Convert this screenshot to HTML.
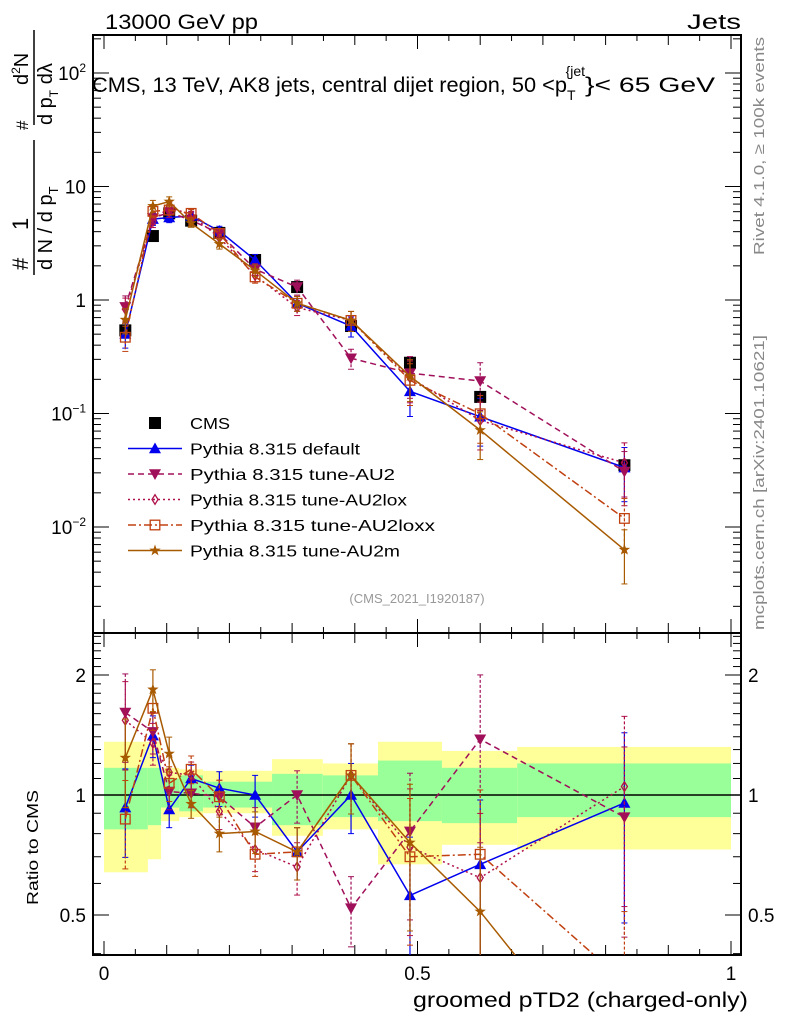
<!DOCTYPE html>
<html><head><meta charset="utf-8"><style>
html,body{margin:0;padding:0;background:#fff;overflow:hidden;width:786px;height:1024px}
svg{display:block;font-family:"Liberation Sans",sans-serif}
</style></head><body>
<svg id="c" width="786" height="1024" viewBox="0 0 786 1024" xmlns="http://www.w3.org/2000/svg">
<text x="105" y="29" font-size="21" textLength="153" lengthAdjust="spacingAndGlyphs">13000 GeV pp</text>
<text x="687" y="29" font-size="21" textLength="54" lengthAdjust="spacingAndGlyphs">Jets</text>
<text x="92" y="92" font-size="21"><tspan textLength="475" lengthAdjust="spacingAndGlyphs">CMS, 13 TeV, AK8 jets, central dijet region, 50 &lt;p</tspan><tspan font-size="14" dy="8">T</tspan><tspan font-size="14" dy="-24" dx="-10">{jet</tspan><tspan dy="16" textLength="130" lengthAdjust="spacingAndGlyphs">}&lt; 65 GeV</tspan></text>
<text transform="translate(764,255) rotate(-90)" font-size="15" fill="#888" textLength="218" lengthAdjust="spacingAndGlyphs">Rivet 4.1.0, ≥ 100k events</text>
<text transform="translate(764,630) rotate(-90)" font-size="15" fill="#888" textLength="295" lengthAdjust="spacingAndGlyphs">mcplots.cern.ch [arXiv:2401.10621]</text>
<g font-size="22">
<text transform="translate(28,270) rotate(-90)">#</text>
<text transform="translate(28,230) rotate(-90)">1</text>
<line x1="34" y1="140" x2="34" y2="275" stroke="#000" stroke-width="1.5"/>
<text transform="translate(52,270) rotate(-90)" font-size="20">d N / d p<tspan font-size="13" dy="6">T</tspan></text>
<text transform="translate(28,130) rotate(-90)" font-size="17">#</text>
<text transform="translate(28,85) rotate(-90)" font-size="20">d<tspan font-size="12" dy="-8">2</tspan><tspan dy="8">N</tspan></text>
<line x1="34" y1="30" x2="34" y2="125" stroke="#000" stroke-width="1.5"/>
<text transform="translate(52,125) rotate(-90)" font-size="20">d p<tspan font-size="12" dy="6">T</tspan><tspan dy="-6"> d</tspan>λ</text>
</g>
<text transform="translate(38,905) rotate(-90)" font-size="16" textLength="115" lengthAdjust="spacingAndGlyphs">Ratio to CMS</text>
<text x="413" y="1007" font-size="21" textLength="335" lengthAdjust="spacingAndGlyphs">groomed pTD2 (charged-only)</text>
<text x="417" y="603" font-size="13" fill="#999" text-anchor="middle">(CMS_2021_I1920187)</text>
<g id="bands"></g><g id="axes"></g><g id="series"></g><g id="legend"></g>
</svg>
<script>
const edges=[0,0.07,0.091,0.12,0.158,0.193,0.268,0.349,0.437,0.539,0.659,1.0];
const xs=[0.034,0.078,0.104,0.139,0.184,0.241,0.308,0.394,0.488,0.6,0.83];
const cmsVals=[0.54,3.66,5.8,5.0,3.9,2.25,1.3,0.59,0.28,0.14,0.035];
const bandYelUp=[1.36,1.36,1.17,1.16,1.15,1.15,1.23,1.2,1.36,1.29,1.32];
const bandYelDn=[0.64,0.69,0.86,0.88,0.9,0.9,0.79,0.82,0.67,0.75,0.73];
const bandGrnUp=[1.17,1.17,1.1,1.12,1.08,1.08,1.13,1.12,1.22,1.17,1.2];
const bandGrnDn=[0.82,0.84,0.93,0.91,0.93,0.93,0.84,0.88,0.86,0.85,0.88];
const rDefault=[0.93,1.41,0.92,1.10,1.04,1.0,0.72,1.0,0.56,0.67,0.955];
const rAU2=[1.61,1.44,1.02,1.01,0.99,0.83,1.0,0.52,0.81,1.38,0.88];
const rAU2lox=[1.54,1.35,1.14,1.12,0.91,0.73,0.66,1.12,0.74,0.62,1.05];
const rAU2loxx=[0.87,1.65,1.07,1.16,0.99,0.71,0.72,1.12,0.70,0.71,0.34];
const rAU2m=[1.24,1.84,1.27,0.95,0.80,0.81,0.72,1.12,0.76,0.51,0.18];
const relErr=[0.25,0.12,0.1,0.08,0.1,0.12,0.15,0.2,0.4,0.45,0.5];
const legendLabels=["CMS","Pythia 8.315 default","Pythia 8.315 tune-AU2","Pythia 8.315 tune-AU2lox","Pythia 8.315 tune-AU2loxx","Pythia 8.315 tune-AU2m"];
const yTickLabels=["10<tspan font-size='12' dy='-8'>2</tspan>","10","1","10<tspan font-size='12' dy='-8'>−1</tspan>","10<tspan font-size='12' dy='-8'>−2</tspan>"];
const yTickExp=[2,1,0,-1,-2];
const rTickVals=[0.5,1,2];
const rTickLabels=["0.5","1","2"];
const xTickVals=[0,0.5,1];
const xTickLabels=["0","0.5","1"];

const NS="http://www.w3.org/2000/svg";
const L=93,R=741,T=35,MB=633,RB=955;
const X=v=>104+v*627;
const Y=v=>300-Math.log10(v)*113.5;
const RY=v=>795-Math.log2(v)*120;
function mk(tag,at,parent){const e=document.createElementNS(NS,tag);for(const k in at)e.setAttribute(k,at[k]);parent.appendChild(e);return e;}
const bands=document.getElementById('bands'),axes=document.getElementById('axes'),ser=document.getElementById('series'),leg=document.getElementById('legend');

for(let i=0;i<xs.length;i++){
 let r=mk('rect',{x:X(edges[i]),y:RY(bandYelUp[i]),width:X(edges[i+1])-X(edges[i]),height:RY(bandYelDn[i])-RY(bandYelUp[i]),fill:'#ffff99'},bands);
 
 
 let g=mk('rect',{x:X(edges[i]),y:RY(bandGrnUp[i]),width:X(edges[i+1])-X(edges[i]),height:RY(bandGrnDn[i])-RY(bandGrnUp[i]),fill:'#99ff99'},bands);
 
 
}
let f1=mk('rect',{x:L,y:T,width:R-L,height:MB-T,fill:'none',stroke:'#000','stroke-width':2},axes);


let f2=mk('rect',{x:L,y:MB,width:R-L,height:RB-MB,fill:'none',stroke:'#000','stroke-width':2},axes);


mk('line',{x1:L,x2:R,y1:RY(1),y2:RY(1),stroke:'#000','stroke-width':1.5},axes);
for(let i=0;i<=20;i++){const v=i*0.05,px=X(v),len=(i%10==0)?14:(i%2==0?10:6);
 for(const [yb,dir] of [[MB,-1],[T,1],[RB,-1]]) mk('line',{x1:px,x2:px,y1:yb,y2:yb+dir*len,stroke:'#000'},axes);
 mk('line',{x1:px,x2:px,y1:MB,y2:MB+len,stroke:'#000'},axes);}
xTickVals.forEach((v,i)=>{const t=mk('text',{x:X(v),y:980,'font-size':19,'text-anchor':'middle'},axes);t.textContent=xTickLabels[i];});
for(let e=-3;e<=2;e++){for(let m=1;m<10;m++){const v=m*Math.pow(10,e),py=Y(v);if(py<T||py>MB)continue;const len=m==1?16:8;
 mk('line',{x1:L,x2:L+len,y1:py,y2:py,stroke:'#000'},axes);mk('line',{x1:R,x2:R-len,y1:py,y2:py,stroke:'#000'},axes);}}
yTickExp.forEach((e,i)=>{const t=mk('text',{x:86,y:Y(Math.pow(10,e))+7,'font-size':19,'text-anchor':'end'},axes);t.innerHTML=yTickLabels[i];});
[0.4,0.5,0.6,0.7,0.8,0.9,1,1.1,1.2,1.3,1.4,1.5,1.6,1.7,1.8,1.9,2,2.1,2.2,2.3,2.4,2.5].forEach(v=>{const py=RY(v);if(py<MB||py>RB)return;const len=(v==0.5||v==1||v==2)?16:8;
 mk('line',{x1:L,x2:L+len,y1:py,y2:py,stroke:'#000'},axes);mk('line',{x1:R,x2:R-len,y1:py,y2:py,stroke:'#000'},axes);});
rTickVals.forEach((v,i)=>{for(const [x,a] of [[86,'end'],[748,'start']]){const t=mk('text',{x:x,y:RY(v)+7,'font-size':19,'text-anchor':a},axes);t.textContent=rTickLabels[i];}});

function marker(type,x,y,c,parent,s){s=s||6;
 if(type=='sq') return mk('rect',{x:x-s,y:y-s,width:2*s,height:2*s,fill:c},parent);
 if(type=='tri') return mk('polygon',{points:`${x},${y-s} ${x-s},${y+s*0.8} ${x+s},${y+s*0.8}`,fill:c},parent);
 if(type=='itri') return mk('polygon',{points:`${x},${y+s} ${x-s},${y-s*0.8} ${x+s},${y-s*0.8}`,fill:c},parent);
 if(type=='dia') return mk('polygon',{points:`${x},${y-s*0.8} ${x-s*0.5},${y} ${x},${y+s*0.8} ${x+s*0.5},${y}`,fill:'none',stroke:c,'stroke-width':1.3},parent);
 if(type=='osq') return mk('rect',{x:x-s*0.8,y:y-s*0.8,width:s*1.6,height:s*1.6,fill:'none',stroke:c,'stroke-width':1.3},parent);
 if(type=='star'){let p=[];for(let k=0;k<10;k++){const r=k%2?s*0.4:s,a=-Math.PI/2+k*Math.PI/5;p.push((x+r*Math.cos(a)).toFixed(1)+','+(y+r*Math.sin(a)).toFixed(1));}return mk('polygon',{points:p.join(' '),fill:c},parent);}
}
const series=[
 {name:'default',r:rDefault,c:'#0000ee',dash:'',m:'tri'},
 {name:'au2',r:rAU2,c:'#a0105a',dash:'6,4',m:'itri'},
 {name:'au2lox',r:rAU2lox,c:'#b0104a',dash:'2,3',m:'dia'},
 {name:'au2loxx',r:rAU2loxx,c:'#c04010',dash:'8,3,2,3',m:'osq'},
 {name:'au2m',r:rAU2m,c:'#a85a00',dash:'',m:'star'}];
const clip=mk('clipPath',{id:'cm'},ser);mk('rect',{x:L,y:T,width:R-L,height:MB-T},clip);
const clip2=mk('clipPath',{id:'cr'},ser);mk('rect',{x:L,y:MB,width:R-L,height:RB-MB},clip2);
series.forEach(s=>{
 const gm=mk('g',{'clip-path':'url(#cm)'},ser);
 
 
 const gr=mk('g',{'clip-path':'url(#cr)'},ser);
 
 
 const mv=s.r.map((r,i)=>r*cmsVals[i]);
 mk('polyline',{points:xs.map((x,i)=>X(x)+','+Y(mv[i])).join(' '),fill:'none',stroke:s.c,'stroke-width':1.5,'stroke-dasharray':s.dash},gm);
 mk('polyline',{points:xs.map((x,i)=>X(x)+','+RY(s.r[i])).join(' '),fill:'none',stroke:s.c,'stroke-width':1.5,'stroke-dasharray':s.dash},gr);
 xs.forEach((x,i)=>{const e=relErr[i];
  for(const [g,fn,v] of [[gm,Y,mv[i]],[gr,RY,s.r[i]]]){
   const y1=fn(v*(1+e)),y2=fn(Math.max(v*(1-e),1e-4));
   mk('line',{x1:X(x),x2:X(x),y1:y1,y2:y2,stroke:s.c,'stroke-width':1.2,'stroke-dasharray':s.dash?'3,2':''},g);
   mk('line',{x1:X(x)-3,x2:X(x)+3,y1:y1,y2:y1,stroke:s.c},g);mk('line',{x1:X(x)-3,x2:X(x)+3,y1:y2,y2:y2,stroke:s.c},g);
   const p=marker(s.m,X(x),fn(v),s.c,g);}
 });
});
cmsVals.forEach((v,i)=>{const p=marker('sq',X(xs[i]),Y(v),'#000',ser,6);
 
 
 ser.insertBefore(p,ser.firstChild);});
const lm=['sq','tri','itri','dia','osq','star'],lc=['#000','#0000ee','#a0105a','#b0104a','#c04010','#a85a00'],ld=['','','6,4','2,3','8,3,2,3',''];
const lw=[40,170,205,217,245,210];
legendLabels.forEach((lab,i)=>{const y=423+i*25.5;
 const g=mk('g',{},leg);
 
 
 if(i>0) mk('line',{x1:128,x2:182,y1:y,y2:y,stroke:lc[i],'stroke-width':1.5,'stroke-dasharray':ld[i]},g);
 marker(lm[i],155,y,lc[i],g,6);
 const t=mk('text',{x:190,y:y+6,'font-size':16,textLength:lw[i],lengthAdjust:'spacingAndGlyphs'},g);t.textContent=lab;});
</script>
</body></html>
